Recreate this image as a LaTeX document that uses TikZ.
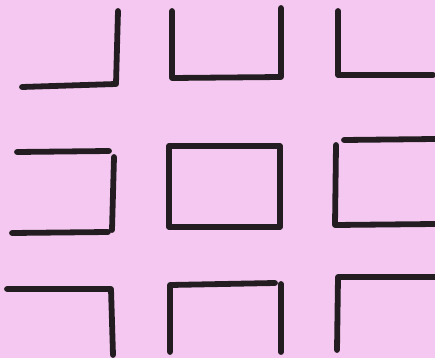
\documentclass[tikz,border=0pt]{standalone}
\definecolor{cpink}{HTML}{F4C8F1}
\definecolor{cink}{HTML}{231C20}
\tikzset{
  every picture/.style={line width=3.3pt},
  stroke/.style={draw=cink, line cap=round, line join=round},
}
\begin{document}
\begin{tikzpicture}[x=0.02cm, y=-0.02cm]
  \fill[cpink] (0,0) rectangle (435,358);
  \useasboundingbox (0,0) rectangle (435,358);
  % top row
  \draw[stroke] (22,87) -- (116,84) -- (118,11);
  \draw[stroke] (172,11) -- (172,78) -- (281,77) -- (281,8);
  \draw[stroke] (338,11) -- (338,75) -- (433,75);
  % middle row
  \draw[stroke] (17,152) -- (109,151);
  \draw[stroke] (114,157) -- (112,230);
  \draw[stroke] (12,233) -- (108,232);
  \draw[stroke] (169,146) rectangle (280,227);
  \draw[stroke] (344,140) -- (435,139);
  \draw[stroke] (336,145) -- (335,225) -- (435,224);
  % bottom row
  \draw[stroke] (7,289) -- (111,289) -- (113,355);
  \draw[stroke] (170,352) -- (170,285) -- (275,283);
  \draw[stroke] (281,284) -- (281,352);
  \draw[stroke] (337,350) -- (338,277) -- (435,277);
\end{tikzpicture}
\end{document}
